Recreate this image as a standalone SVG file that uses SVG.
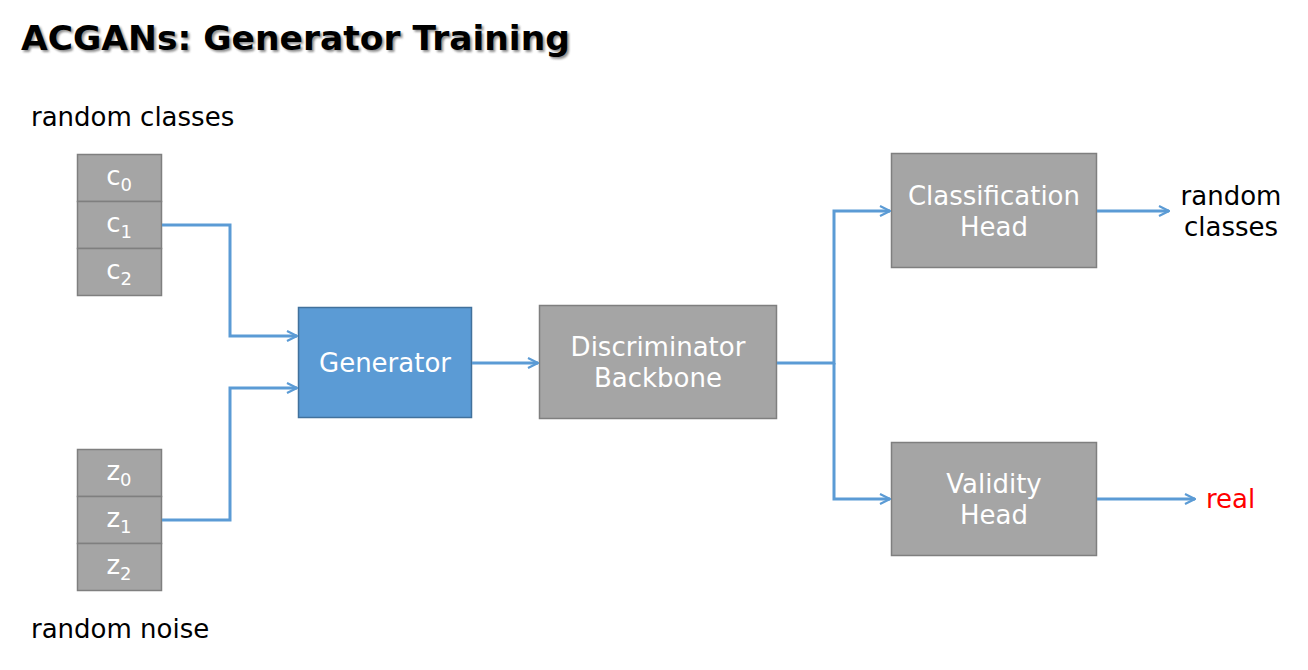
<svg xmlns="http://www.w3.org/2000/svg" width="1308" height="670" viewBox="0 0 1308 670">
<defs>
<marker id="arr" viewBox="0 0 12 12" refX="11" refY="6" markerWidth="12" markerHeight="12" markerUnits="userSpaceOnUse" orient="auto">
<path d="M1,1 L11,6 L1,11" fill="none" stroke="#5B9BD5" stroke-width="2.2"/>
</marker>
<filter id="blur" x="-5%" y="-20%" width="110%" height="140%">
<feGaussianBlur stdDeviation="1"/>
</filter>
</defs>
<style>
text{font-family:"DejaVu Sans","Liberation Sans",sans-serif;}
.gray{fill:#A5A5A5;stroke:#7F7F7F;stroke-width:1.5;}
.blue{fill:#5B9BD5;stroke:#41719C;stroke-width:1.5;}
.nt{fill:#FFFFFF;font-size:26px;text-anchor:middle;}
.lbl{fill:#000000;font-size:26px;}
.sub{font-size:18px;}
.conn{fill:none;stroke:#5B9BD5;stroke-width:3;marker-end:url(#arr);}
.title{font-size:34.5px;font-weight:bold;}
</style>
<rect width="1308" height="670" fill="#FFFFFF"/>
<g id="title">
<text class="title" x="23" y="52" fill="#606060" opacity="0.7" filter="url(#blur)">ACGANs: Generator Training</text>
<text class="title" x="21" y="50" fill="#000000">ACGANs: Generator Training</text>
</g>
<g id="label-random-classes">
<text class="lbl" x="31" y="126">random classes</text>
</g>
<g id="label-random-noise">
<text class="lbl" x="31" y="638">random noise</text>
</g>
<g id="classes">
<rect class="gray" x="77.5" y="154.5" width="84" height="47"/>
<rect class="gray" x="77.5" y="201.5" width="84" height="47"/>
<rect class="gray" x="77.5" y="248.5" width="84" height="47"/>
<text class="nt" x="119" y="185">c<tspan class="sub" dy="6">0</tspan></text>
<text class="nt" x="119" y="232">c<tspan class="sub" dy="6">1</tspan></text>
<text class="nt" x="119" y="279">c<tspan class="sub" dy="6">2</tspan></text>
</g>
<g id="noise">
<rect class="gray" x="77.5" y="449.5" width="84" height="47"/>
<rect class="gray" x="77.5" y="496.5" width="84" height="47"/>
<rect class="gray" x="77.5" y="543.5" width="84" height="47"/>
<text class="nt" x="119" y="480">z<tspan class="sub" dy="6">0</tspan></text>
<text class="nt" x="119" y="527">z<tspan class="sub" dy="6">1</tspan></text>
<text class="nt" x="119" y="574">z<tspan class="sub" dy="6">2</tspan></text>
</g>
<g id="generator">
<rect class="blue" x="298.5" y="307.5" width="173" height="110"/>
<text class="nt" x="385" y="372">Generator</text>
</g>
<g id="discriminator">
<rect class="gray" x="539.5" y="305.5" width="237" height="113"/>
<text class="nt" x="658" y="356">Discriminator</text>
<text class="nt" x="658" y="387">Backbone</text>
</g>
<g id="classification-head">
<rect class="gray" x="891.5" y="153.5" width="205" height="114"/>
<text class="nt" x="994" y="205">Classification</text>
<text class="nt" x="994" y="236">Head</text>
</g>
<g id="validity-head">
<rect class="gray" x="891.5" y="442.5" width="205" height="113"/>
<text class="nt" x="994" y="493">Validity</text>
<text class="nt" x="994" y="524">Head</text>
</g>
<g id="out-classes">
<text class="lbl" x="1231" y="205" text-anchor="middle">random</text>
<text class="lbl" x="1231" y="236" text-anchor="middle">classes</text>
</g>
<g id="out-real">
<text class="lbl" x="1206" y="508" style="fill:#FF0000">real</text>
</g>
<g id="connectors">
<path class="conn" d="M162,225 H230 V336 H297"/>
<path class="conn" d="M162,520 H230 V388 H297"/>
<path class="conn" d="M472,363 H538"/>
<path class="conn" d="M777,363 H834 V211 H890"/>
<path class="conn" d="M834,363 V499 H890"/>
<path class="conn" d="M1097,211 H1169"/>
<path class="conn" d="M1097,499 H1195"/>
</g>
</svg>
